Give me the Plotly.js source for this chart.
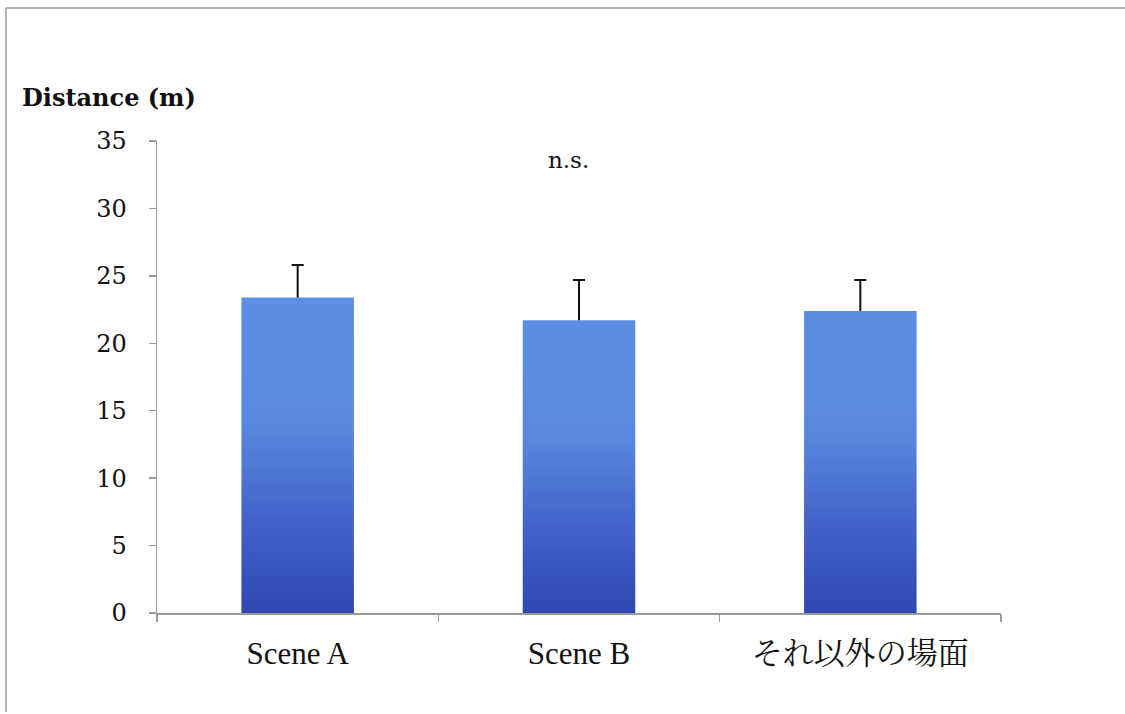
<!DOCTYPE html>
<html><head><meta charset="utf-8">
<script src="https://cdn.plot.ly/plotly-3.0.1.min.js"></script>
<style>html,body{margin:0;padding:0;background:#fff;overflow:hidden;} #chart{width:1125px;height:714px;}</style>
</head><body><div id="chart"></div>
<script>
const categories = ['Scene A', 'Scene B', 'それ以外の場面'];
const meanDistance = [23.4, 21.7, 22.4];
const errorUpper = [2.4, 3.0, 2.3];
const errorLower = [0, 0, 0];
const yTickValues = [0, 5, 10, 15, 20, 25, 30, 35];
const yAxisTitle = 'Distance (m)';
const noteText = 'n.s.';

const serif = 'DejaVu Serif, Liberation Serif, serif';
const catFont = 'Liberation Serif, Noto Serif CJK JP, Noto Sans CJK JP, serif';

// plot area geometry (px)
const L = 157, R = 124, T = 141, B = 101, W = 1125, H = 714;
const pw = W - L - R, ph = H - T - B;
const px = v => (v - L) / pw;
const py = v => (H - B - v) / ph;

const trace = {
  type: 'bar',
  x: categories,
  y: meanDistance,
  marker: {color: '#4a72d4', line: {width: 0}},
  error_y: {type: 'data', symmetric: false, array: errorUpper, arrayminus: errorLower,
            color: '#111', thickness: 2, width: 6},
  hoverinfo: 'skip'
};

const layout = {
  width: W, height: H,
  margin: {l: L, r: R, t: T, b: B, pad: 0},
  paper_bgcolor: '#fff', plot_bgcolor: '#fff',
  showlegend: false,
  bargap: 0.6,
  xaxis: {
    type: 'category', showline: true, linecolor: '#9a9a9a', linewidth: 1.5,
    ticks: 'outside', tickson: 'boundaries', ticklen: 7, tickcolor: '#9a9a9a', tickwidth: 1.5,
    showgrid: false, zeroline: false,
    tickfont: {family: catFont, size: 31, color: '#111'},
    ticklabelstandoff: 12
  },
  yaxis: {
    range: [0, 35], tickvals: yTickValues, ticktext: yTickValues.map(String),
    showline: true, linecolor: '#9a9a9a', linewidth: 1.5,
    ticks: 'outside', ticklen: 7, tickcolor: '#9a9a9a', tickwidth: 1.5,
    showgrid: false, zeroline: false,
    tickfont: {family: serif, size: 24, color: '#111'},
    ticklabelstandoff: 17
  },
  annotations: [
    {text: '<b>' + yAxisTitle + '</b>', xref: 'paper', yref: 'paper', x: px(20), y: py(97),
     xanchor: 'left', yanchor: 'middle', showarrow: false,
     font: {family: serif, size: 24, color: '#111'}},
    {text: noteText, xref: 'paper', yref: 'y', x: px(568), y: 33.6,
     xanchor: 'center', yanchor: 'middle', showarrow: false,
     font: {family: serif, size: 23, color: '#111'}}
  ],
  shapes: [
    {type: 'line', xref: 'paper', yref: 'paper', x0: px(6), x1: px(1125), y0: py(8), y1: py(8),
     line: {color: '#b5b5b5', width: 2}},
    {type: 'line', xref: 'paper', yref: 'paper', x0: px(6), x1: px(6), y0: py(8), y1: py(712),
     line: {color: '#b5b5b5', width: 2}}
  ]
};

function applyGradient(gd) {
  const svg = gd.querySelector('svg.main-svg');
  if (!svg) return;
  let defs = svg.querySelector('defs');
  if (!defs) { defs = document.createElementNS('http://www.w3.org/2000/svg', 'defs'); svg.insertBefore(defs, svg.firstChild); }
  if (!svg.querySelector('#barGrad')) {
    const g = document.createElementNS('http://www.w3.org/2000/svg', 'linearGradient');
    g.setAttribute('id', 'barGrad');
    g.setAttribute('x1', '0'); g.setAttribute('y1', '0'); g.setAttribute('x2', '0'); g.setAttribute('y2', '1');
    [['0%', '#5b8fe4'], ['40%', '#5a88df'], ['70%', '#4363ca'], ['100%', '#2f47b4']].forEach(([o, c]) => {
      const s = document.createElementNS('http://www.w3.org/2000/svg', 'stop');
      s.setAttribute('offset', o); s.setAttribute('stop-color', c);
      g.appendChild(s);
    });
    defs.appendChild(g);
  }
  gd.querySelectorAll('.trace.bars .point path').forEach(p => { p.style.fill = 'url(#barGrad)'; });
  // only the upper whisker cap is visible in the reference: drop the base cap
  gd.querySelectorAll('.errorbar path.yerror').forEach(p => {
    const d = p.getAttribute('d') || '';
    p.setAttribute('d', d.replace(/m-[\d.]+,0h[\d.]+$/, ''));
  });
}

const gd = document.getElementById('chart');
Plotly.newPlot(gd, [trace], layout, {displayModeBar: false, staticPlot: true}).then(() => {
  applyGradient(gd);
  gd.on('plotly_afterplot', () => applyGradient(gd));
});
</script>
</body></html>
